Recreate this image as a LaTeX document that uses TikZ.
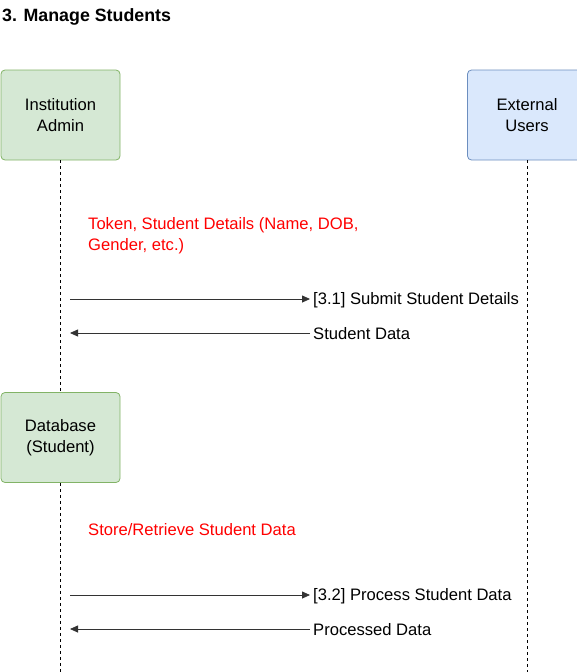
\documentclass[tikz,border=0pt]{standalone}
\usepackage{fontspec}
\setmainfont{Liberation Sans}
\usetikzlibrary{arrows.meta}
\usetikzlibrary{positioning}
\definecolor{greenfill}{HTML}{D5E8D4}
\definecolor{greendraw}{HTML}{82B366}
\definecolor{bluefill}{HTML}{DAE8FC}
\definecolor{bluedraw}{HTML}{6C8EBF}
\definecolor{notered}{HTML}{FF0000}
\definecolor{msggray}{HTML}{333333}
\tikzset{
	actor/.style={draw, rounded corners=4pt, line width=0.8pt, minimum width=119pt, minimum height=90pt, inner sep=0pt, align=center, font=\fontsize{16.6}{21}\selectfont},
	green actor/.style={actor, fill=greenfill, draw=greendraw},
	blue actor/.style={actor, fill=bluefill, draw=bluedraw},
	lifeline/.style={draw=black, dash pattern=on 3pt off 3pt, line width=0.7pt},
	msg/.style={->, >={Triangle[length=8pt, width=7pt]}, draw=msggray, line width=0.8pt},
	msglabel/.style={anchor=west, inner sep=0pt, font=\fontsize{16.6}{21}\selectfont},
	note/.style={anchor=north west, inner sep=0pt, align=left, text=notered, font=\fontsize{16.6}{21}\selectfont}
}
\begin{document}
\begin{tikzpicture}[x=1pt, y=-1pt]
\useasboundingbox (0,0) rectangle (577,672);
\node[anchor=west, inner sep=0pt, font=\fontsize{17.8}{21}\selectfont\bfseries] (title) at (2,17) {3. Manage Students};

\node[green actor] (IA) at (60.5,115) {Institution\\Admin};
\node[blue actor] (EU) at (527,115) {External\\Users};
\node[green actor] (DB) at (60.5,437.5) {Database\\(Student)};

\coordinate (IAend) at (60.5,672);
\coordinate (EUend) at (527,672);
\draw[lifeline] (IA) -- (DB);
\draw[lifeline] (DB) -- (IAend);
\draw[lifeline] (EU) -- (EUend);

% student details
\node[note] (n1) at (88,217) {Token, Student Details (Name, DOB,\\Gender, etc.)};
\node[msglabel] (m1) at (313,300) {[3.1] Submit Student Details};
\node[msglabel] (m2) at (313,334) {Student Data};
\coordinate (a1) at (70,299);
\coordinate (a2) at (70,333);
\draw[msg] (a1) -- ([xshift=-3pt]m1.west |- a1);
\draw[msg] ([xshift=-3pt]m2.west |- a2) -- (a2);

% database
\node[note] (n2) at (88,523) {Store/Retrieve Student Data};
\node[msglabel] (m3) at (313,596) {[3.2] Process Student Data};
\node[msglabel] (m4) at (313,630) {Processed Data};
\coordinate (a3) at (70,595);
\coordinate (a4) at (70,629);
\draw[msg] (a3) -- ([xshift=-3pt]m3.west |- a3);
\draw[msg] ([xshift=-3pt]m4.west |- a4) -- (a4);
\end{tikzpicture}
\end{document}
